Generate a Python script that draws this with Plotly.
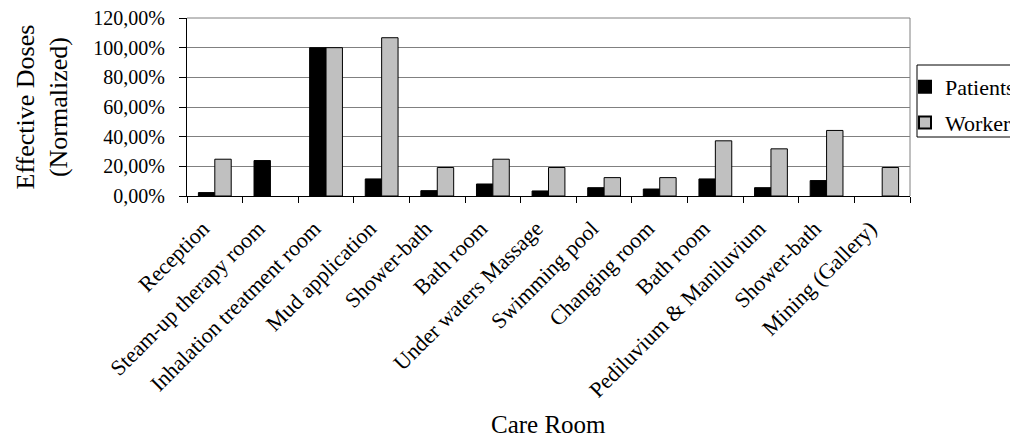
import plotly.graph_objects as go

rooms = ["Reception", "Steam-up therapy room", "Inhalation treatment room", "Mud application",
         "Shower-bath", "Bath room", "Under waters Massage", "Swimming pool", "Changing room",
         "Bath room", "Pediluvium & Maniluvium", "Shower-bath", "Mining (Gallery)"]
patients = [2.3, 23.9, 100.0, 11.5, 3.6, 8.1, 3.4, 5.6, 4.7, 11.5, 5.6, 10.4, None]
workers = [24.8, None, 100.0, 106.7, 19.2, 24.8, 19.2, 12.4, 12.4, 37.2, 31.8, 44.2, 19.2]
y_ticks = [0, 20, 40, 60, 80, 100, 120]
y_tick_text = ["0,00%", "20,00%", "40,00%", "60,00%", "80,00%", "100,00%", "120,00%"]

FONT = "Liberation Serif"
idx = list(range(len(rooms)))

fig = go.Figure()
fig.add_trace(go.Bar(x=idx, y=patients, name="Patients", legendgroup="p",
                     marker=dict(color="#000000", line=dict(color="#000000", width=1))))
fig.add_trace(go.Bar(x=idx, y=workers, name="Workers", legendgroup="w",
                     marker=dict(color="#C0C0C0", line=dict(color="#000000", width=1))))

# page body has an 8px offset; work in figure coordinates
OFF = 8
W, H = 1040, 441
L, T = 187 - OFF, 18 - OFF
Rx, By = 910 - OFF, 196 - OFF
R, B = W - Rx, H - By
pw, ph = Rx - L, By - T

def px(x):
    return (x - OFF - L) / pw

def py(y):
    return (By - (y - OFF)) / ph

fig.update_layout(
    width=W, height=H,
    margin=dict(l=L, r=R, t=T, b=B, autoexpand=False),
    paper_bgcolor="white", plot_bgcolor="white",
    barmode="group", bargap=0.41, bargroupgap=0,
    font=dict(family=FONT, color="black", size=20),
    showlegend=True,
    legend=dict(x=px(905), y=py(66), xanchor="left", yanchor="top",
                borderwidth=0, bgcolor="rgba(0,0,0,0)", font=dict(family=FONT, size=22),
                traceorder="grouped", tracegroupgap=4, itemsizing="constant"),
    xaxis=dict(range=[-0.5, len(rooms) - 0.5], tickvals=idx, ticktext=rooms,
               tickangle=-45, ticks="", showgrid=False, automargin=False,
               showline=True, linecolor="black", linewidth=1, mirror=False,
               tickfont=dict(family=FONT, size=22), ticklabelstandoff=10, ticklabelshift=-12,
               ticklabeloverflow="allow",
               minor=dict(tickvals=[i - 0.5 for i in range(len(rooms) + 1)],
                          ticks="outside", ticklen=6, tickcolor="black", showgrid=False),
               zeroline=False),
    yaxis=dict(range=[0, 120], tickvals=y_ticks, ticktext=y_tick_text,
               ticks="outside", ticklen=7, tickcolor="black",
               showgrid=True, gridcolor="#808080", gridwidth=1,
               showline=True, linecolor="black", linewidth=1, automargin=False,
               tickfont=dict(family=FONT, size=20), ticklabelstandoff=10,
               ticklabeloverflow="allow", zeroline=False),
    shapes=[dict(type="line", xref="paper", yref="paper", x0=0, x1=1, y0=1, y1=1,
                 line=dict(color="#808080", width=1)),
            dict(type="line", xref="paper", yref="paper", x0=1, x1=1, y0=0, y1=1,
                 line=dict(color="#808080", width=1)),
            dict(type="rect", xref="paper", yref="paper", x0=px(917), x1=px(1040),
                 y0=py(137), y1=py(65), line=dict(color="black", width=1),
                 fillcolor="rgba(0,0,0,0)")],
    annotations=[
        dict(text="Effective Doses<br>(Normalized)", xref="paper", yref="paper",
             x=px(41.5), y=py(107), xanchor="center", yanchor="middle",
             textangle=-90, showarrow=False, font=dict(family=FONT, size=26)),
        dict(text="Care Room", xref="paper", yref="paper",
             x=px(548), y=py(424), xanchor="center", yanchor="middle",
             showarrow=False, font=dict(family=FONT, size=25)),
    ],
)

fig.write_html("out.html")
